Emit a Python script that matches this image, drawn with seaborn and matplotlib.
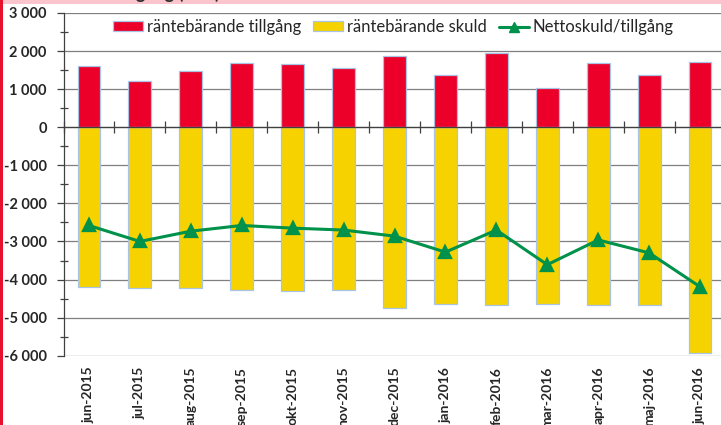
import matplotlib
matplotlib.use("Agg")
import matplotlib.pyplot as plt
import seaborn as sns
import pandas as pd
import numpy as np
from matplotlib.patches import Patch, Rectangle
from matplotlib.lines import Line2D
from matplotlib.ticker import FuncFormatter, MultipleLocator, FixedLocator

months = ["jun-2015", "jul-2015", "aug-2015", "sep-2015", "okt-2015", "nov-2015",
          "dec-2015", "jan-2016", "feb-2016", "mar-2016", "apr-2016", "maj-2016", "jun-2016"]
tillgang = [1615, 1205, 1475, 1685, 1650, 1545, 1880, 1360, 1950, 1030, 1685, 1360, 1720]
skuld = [-4195, -4230, -4230, -4285, -4310, -4265, -4755, -4650, -4660, -4650, -4660, -4660, -5925]
netto = [-2580, -3000, -2730, -2580, -2650, -2700, -2860, -3280, -2700, -3610, -2960, -3300, -4190]

label_t = "räntebärande tillgång"
label_s = "räntebärande skuld"
label_n = "Nettoskuld/tillgång"
title = "Nettoskuld/tillgång (mkr)"

RED = "#EC0029"
YEL = "#F5D200"
GRN = "#00914A"
EDGE = "#A9C3E4"

df = pd.DataFrame({"month": months, "tillgang": tillgang, "skuld": skuld, "netto": netto})

sns.set_theme(style="white")
plt.rcParams["font.family"] = ["Lato", "DejaVu Sans"]

W, H = 721, 425
fig = plt.figure(figsize=(W / 100, H / 100), dpi=100)
ax = fig.add_axes([63.5 / W, 1 - 355.7 / H, 662 / W, (355.7 - 13) / H])

sns.barplot(data=df, x="month", y="skuld", color=YEL, width=0.45, edgecolor=EDGE,
            linewidth=0.9, saturation=1, ax=ax, zorder=2)
sns.barplot(data=df, x="month", y="tillgang", color=RED, width=0.45, edgecolor=EDGE,
            linewidth=0.9, saturation=1, ax=ax, zorder=2)
sns.pointplot(data=df, x="month", y="netto", color=GRN, markers="^", errorbar=None,
              markersize=9, linewidth=2.2, ax=ax, zorder=4)

ax.set_xlim(-0.5, len(months) - 0.5)
ax.set_ylim(-6000, 3000)
ax.set_xlabel("")
ax.set_ylabel("")

# grid
ax.yaxis.set_major_locator(MultipleLocator(1000))
ax.yaxis.set_minor_locator(MultipleLocator(500))
ax.grid(axis="y", which="major", color="#7F7F7F", linewidth=0.9, zorder=0)
ax.set_axisbelow(True)

ax.yaxis.set_major_formatter(FuncFormatter(lambda v, p: f"{int(v):,}".replace(",", " ")))
ax.tick_params(axis="y", which="major", direction="out", length=5, width=0.9,
               color="#404040", left=True, labelsize=10.5, pad=7)
ax.tick_params(axis="y", which="minor", direction="inout", length=6, width=0.9,
               color="#404040", left=True)
for lab in ax.get_yticklabels():
    lab.set_fontweight("bold")

for s in ["top", "right"]:
    ax.spines[s].set_visible(False)
ax.spines["left"].set_color("#404040")
ax.spines["left"].set_linewidth(0.9)
# category axis at zero
ax.spines["bottom"].set_position(("data", 0))
ax.spines["bottom"].set_color("#404040")
ax.spines["bottom"].set_linewidth(0.9)
ax.spines["bottom"].set_zorder(3)
ax.xaxis.set_minor_locator(FixedLocator(np.arange(len(months) + 1) - 0.5))
ax.tick_params(axis="x", which="minor", direction="inout", length=8, width=0.9,
               color="#404040", bottom=True)
ax.tick_params(axis="x", which="major", bottom=False, labelbottom=False)

sec = ax.secondary_xaxis(0)
sec.set_xticks(range(len(months)), months)
sec.tick_params(axis="x", length=0, pad=8, labelsize=10, labelrotation=90)
for lab in sec.get_xticklabels():
    lab.set_fontweight("bold")
    lab.set_verticalalignment("top")
sec.spines["bottom"].set_visible(False)

handles = [Patch(facecolor=RED, edgecolor=EDGE, linewidth=0.9, label=label_t),
           Patch(facecolor=YEL, edgecolor=EDGE, linewidth=0.9, label=label_s),
           Line2D([0], [0], color=GRN, linewidth=2.2, marker="^", markersize=7, label=label_n)]
leg = fig.legend(handles=handles, loc="center left", bbox_to_anchor=(113 / W, 1 - 27 / H),
                 ncol=3, frameon=False, fontsize=12, handlelength=1.8, handleheight=0.55,
                 handletextpad=0.25, columnspacing=0.7, borderpad=0, borderaxespad=0)

# decorations: top band with cropped title, left red border
fig.patches.append(Rectangle((0, 1 - 4 / H), 1, 4 / H, transform=fig.transFigure,
                             facecolor="#FBC5CD", edgecolor="none", zorder=0))
fig.text(17 / W, 1 + 1.0 / H, title, fontsize=13, fontweight="bold", color="#303030",
         va="baseline", ha="left")
fig.patches.append(Rectangle((0, 0), 3 / W, 1, transform=fig.transFigure,
                             facecolor="#E8112D", edgecolor="none", zorder=5))

fig.savefig("out.png", dpi=100)
